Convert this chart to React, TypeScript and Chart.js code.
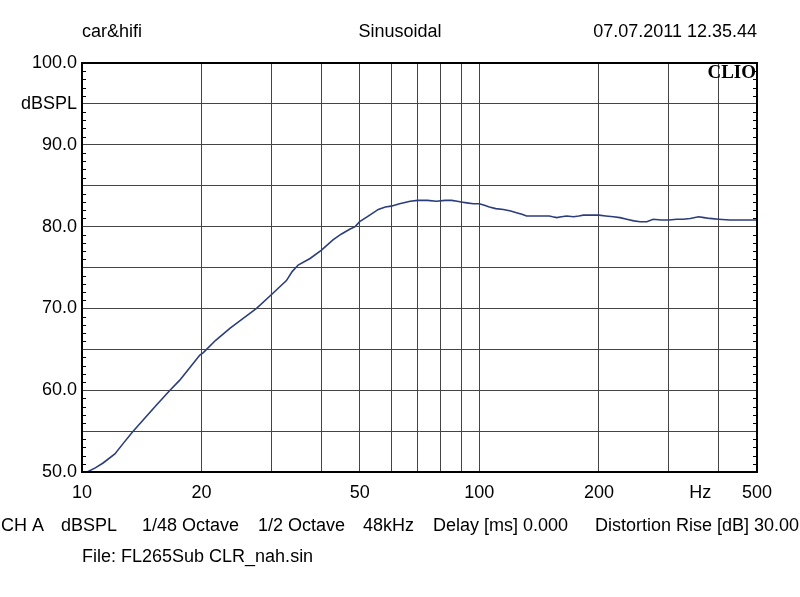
import React, { useEffect, useRef } from "react";
import { Chart, registerables } from "chart.js";

Chart.register(...registerables);

const freqs: number[] = [
  10.3, 10.8, 11.3, 12.1, 12.7, 13.4, 14.4, 15.4, 16.65, 17.6, 18.35, 19.8, 20.2, 21.7, 23.6, 25.5, 27.5, 30.0,
  32.7, 33.8, 35.0, 37.5, 40, 42.9, 45, 47.3, 48.7, 50, 53, 55.7, 58, 60, 63, 67, 70, 74, 78, 82, 85.2, 88, 90,
  93, 96.6, 100, 103, 106, 110, 115, 120, 124, 128, 131.5, 140, 150, 153, 156.6, 161, 166, 172.6, 178, 182.8,
  190, 200, 208, 217.5, 226, 235, 245, 254, 264, 274, 287, 300, 314, 326, 339.5, 356.5, 368, 380, 400, 427,
  460, 500,
];
const spl: number[] = [
  50.0, 50.5, 51.1, 52.2, 53.5, 54.9, 56.6, 58.2, 60.0, 61.2, 62.3, 64.3, 64.6, 66.1, 67.6, 68.8, 70.0, 71.7,
  73.4, 74.5, 75.3, 76.1, 77.1, 78.4, 79.1, 79.7, 80.0, 80.6, 81.4, 82.1, 82.4, 82.5, 82.8, 83.1, 83.2, 83.2,
  83.1, 83.2, 83.2, 83.1, 83.0, 82.9, 82.8, 82.8, 82.6, 82.4, 82.2, 82.1, 81.9, 81.7, 81.5, 81.3, 81.3, 81.3,
  81.2, 81.1, 81.2, 81.3, 81.2, 81.3, 81.4, 81.4, 81.4, 81.3, 81.2, 81.1, 80.9, 80.7, 80.6, 80.6, 80.9, 80.8,
  80.8, 80.9, 80.9, 81.0, 81.2, 81.1, 81.0, 80.9, 80.8, 80.8, 80.8,
];

const xGridValues: number[] = [10, 20, 30, 40, 50, 60, 70, 80, 90, 100, 200, 300, 400, 500];
const xLabelValues: number[] = [10, 20, 50, 100, 200, 360, 500];
const xLabelTexts: string[] = ["10", "20", "50", "100", "200", "Hz", "500"];
const yLabelValues: number[] = [100, 95, 90, 80, 70, 60, 50];
const yLabelTexts: string[] = ["100.0", "dBSPL", "90.0", "80.0", "70.0", "60.0", "50.0"];

const headerLeft = "car&hifi";
const headerCenter = "Sinusoidal";
const headerRight = "07.07.2011 12.35.44";
const footerSegments: string[] = [
  "CH A",
  "dBSPL",
  "1/48 Octave",
  "1/2 Octave",
  "48kHz",
  "Delay [ms] 0.000",
  "Distortion Rise [dB] 30.00",
];
const footerX: number[] = [1, 61, 142, 258, 363, 433, 595];
const fileLine = "File: FL265Sub CLR_nah.sin";

const FONT = '18px "Liberation Sans", Arial, sans-serif';

const decorPlugin = {
  id: "decor",
  afterDraw(chart: any) {
    const { ctx, chartArea } = chart;
    const xs = chart.scales.x;
    const ys = chart.scales.y;
    ctx.save();
    // frame
    ctx.strokeStyle = "#000";
    ctx.lineWidth = 2;
    ctx.strokeRect(chartArea.left, chartArea.top, chartArea.right - chartArea.left, chartArea.bottom - chartArea.top);
    // minor ticks
    ctx.lineWidth = 1;
    for (let v = 51; v < 100; v++) {
      if (v % 5 === 0) continue;
      const py = Math.round(ys.getPixelForValue(v)) + 0.5;
      ctx.beginPath();
      ctx.moveTo(chartArea.left, py);
      ctx.lineTo(chartArea.left + 4, py);
      ctx.moveTo(chartArea.right, py);
      ctx.lineTo(chartArea.right - 4, py);
      ctx.stroke();
    }
    ctx.fillStyle = "#000";
    ctx.font = FONT;
    // y labels
    ctx.textAlign = "right";
    ctx.textBaseline = "middle";
    yLabelValues.forEach((v, i) => {
      ctx.fillText(yLabelTexts[i], chartArea.left - 5, ys.getPixelForValue(v));
    });
    // x labels
    ctx.textAlign = "center";
    xLabelValues.forEach((v, i) => {
      ctx.fillText(xLabelTexts[i], xs.getPixelForValue(v), chartArea.bottom + 21);
    });
    // header
    ctx.textAlign = "left";
    ctx.fillText(headerLeft, chartArea.left, 32);
    ctx.textAlign = "center";
    ctx.fillText(headerCenter, 400, 32);
    ctx.textAlign = "right";
    ctx.fillText(headerRight, chartArea.right, 32);
    // footer
    ctx.textAlign = "left";
    footerSegments.forEach((s, i) => ctx.fillText(s, footerX[i], 526));
    ctx.fillText(fileLine, chartArea.left, 557);
    // CLIO
    ctx.font = 'bold 19px "Liberation Serif", "Times New Roman", serif';
    ctx.textAlign = "right";
    ctx.fillText("CLIO", chartArea.right - 1, 73);
    ctx.restore();
  },
};

export default function App() {
  const ref = useRef<HTMLCanvasElement | null>(null);
  useEffect(() => {
    if (!ref.current) return;
    const chart = new Chart(ref.current, {
      type: "line",
      data: {
        datasets: [
          {
            data: freqs.map((f, i) => ({ x: f, y: spl[i] })),
            borderColor: "#2b3d7c",
            borderWidth: 1.6,
            pointRadius: 0,
            tension: 0,
            fill: false,
          },
        ],
      },
      options: {
        animation: false,
        responsive: false,
        devicePixelRatio: 1,
        layout: { padding: { left: 82, right: 43, top: 63, bottom: 125 } },
        plugins: { legend: { display: false }, tooltip: { enabled: false }, title: { display: false } },
        scales: {
          x: {
            type: "logarithmic",
            min: 10,
            max: 500,
            afterBuildTicks: (scale: any) => {
              scale.ticks = xGridValues.map((v) => ({ value: v }));
            },
            ticks: { display: false },
            grid: { color: "#444", lineWidth: 1, drawTicks: false },
            border: { display: false },
          },
          y: {
            type: "linear",
            min: 50,
            max: 100,
            ticks: { display: false, stepSize: 5 },
            grid: { color: "#444", lineWidth: 1, drawTicks: false },
            border: { display: false },
          },
        },
      },
      plugins: [decorPlugin],
    } as any);
    return () => chart.destroy();
  }, []);
  return (
    <div style={{ position: "absolute", left: 0, top: 0, width: 800, height: 597, background: "#fff" }}>
      <canvas ref={ref} width={800} height={597} />
    </div>
  );
}
